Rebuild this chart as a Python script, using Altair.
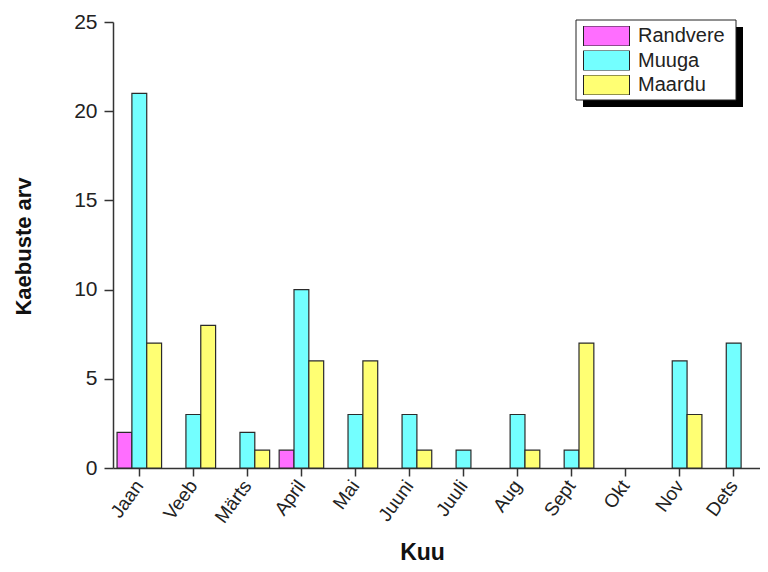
import altair as alt
import pandas as pd

months = ["Jaan", "Veeb", "Märts", "April", "Mai", "Juuni", "Juuli", "Aug", "Sept", "Okt", "Nov", "Dets"]
series_names = ["Randvere", "Muuga", "Maardu"]
randvere = [2, 0, 0, 1, 0, 0, 0, 0, 0, 0, 0, 0]
muuga = [21, 3, 2, 10, 3, 3, 1, 3, 1, 0, 6, 7]
maardu = [7, 8, 1, 6, 6, 1, 0, 1, 7, 0, 3, 0]
colors = ["#FF6EFF", "#73FFFF", "#FFFF73"]
y_ticks = [0, 5, 10, 15, 20, 25]

rows = []
for name, vals in zip(series_names, [randvere, muuga, maardu]):
    for m, v in zip(months, vals):
        rows.append({"Kuu": m, "Seeria": name, "Arv": v})
df = pd.DataFrame(rows)

FONT = "Liberation Sans"
W, H = 647, 446
INK = "#222222"

bars = alt.Chart(df).transform_filter("datum.Arv > 0").mark_bar(
    stroke="#2b2b2b", strokeWidth=1.2
).encode(
    x=alt.X(
        "Kuu:N", sort=months,
        scale=alt.Scale(domain=months, paddingInner=0.176, paddingOuter=0.075),
        axis=alt.Axis(
            title="Kuu", titleFont=FONT, titleFontSize=23, titleFontWeight="bold", titleColor="#111",
            titleX=309, titleY=91, titleBaseline="alphabetic", titleAlign="center",
            labelFont=FONT, labelFontSize=19, labelColor=INK, labelAngle=306,
            labelAlign="right", labelBaseline="middle", labelPadding=6,
            tickSize=8, tickColor="#333", tickWidth=1.5,
            domainColor="#333", domainWidth=1.5,
        ),
    ),
    xOffset=alt.XOffset(
        "Seeria:N", sort=series_names,
        scale=alt.Scale(domain=series_names, paddingInner=0, paddingOuter=0),
    ),
    y=alt.Y(
        "Arv:Q",
        scale=alt.Scale(domain=[0, 25], nice=False),
        axis=alt.Axis(
            values=y_ticks, grid=False,
            title="Kaebuste arv", titleFont=FONT, titleFontSize=22, titleFontWeight="bold", titleColor="#111",
            titleX=-90, titleY=224, titleAngle=270, titleBaseline="middle", titleAlign="center",
            labelFont=FONT, labelFontSize=21, labelColor=INK, labelPadding=7,
            tickSize=9, tickColor="#333", tickWidth=1.5,
            domainColor="#333", domainWidth=1.5,
        ),
    ),
    color=alt.Color(
        "Seeria:N", sort=series_names,
        scale=alt.Scale(domain=series_names, range=colors),
        legend=alt.Legend(
            title=None, orient="none", legendX=470, legendY=4, zindex=2,
            symbolType="M-1,-0.435H1V0.435H-1Z", symbolSize=2116, clipHeight=20,
            rowPadding=4.5, labelOffset=8, labelFont=FONT, labelFontSize=20, labelColor=INK,
            labelBaseline="middle", labelLimit=200, padding=0,
            symbolStrokeColor=INK, symbolStrokeWidth=1, symbolOpacity=1,
        ),
    ),
)

frame_data = alt.Data(values=[{"k": 1}])
shadow = alt.Chart(frame_data).mark_rect(color="black").encode(
    x=alt.value(470), x2=alt.value(630), y=alt.value(5), y2=alt.value(85)
)
box = alt.Chart(frame_data).mark_rect(fill="white", stroke=INK, strokeWidth=1).encode(
    x=alt.value(463), x2=alt.value(623), y=alt.value(-2), y2=alt.value(78)
)

chart = alt.layer(shadow, box, bars).properties(
    width=W, height=H,
    autosize=alt.AutoSizeParams(type="none"),
    padding={"left": 105, "top": 14, "right": 0, "bottom": 96},
    background="white",
).configure_view(stroke=None)

chart.save("out.html", embed_options={"renderer": "svg", "actions": False})
